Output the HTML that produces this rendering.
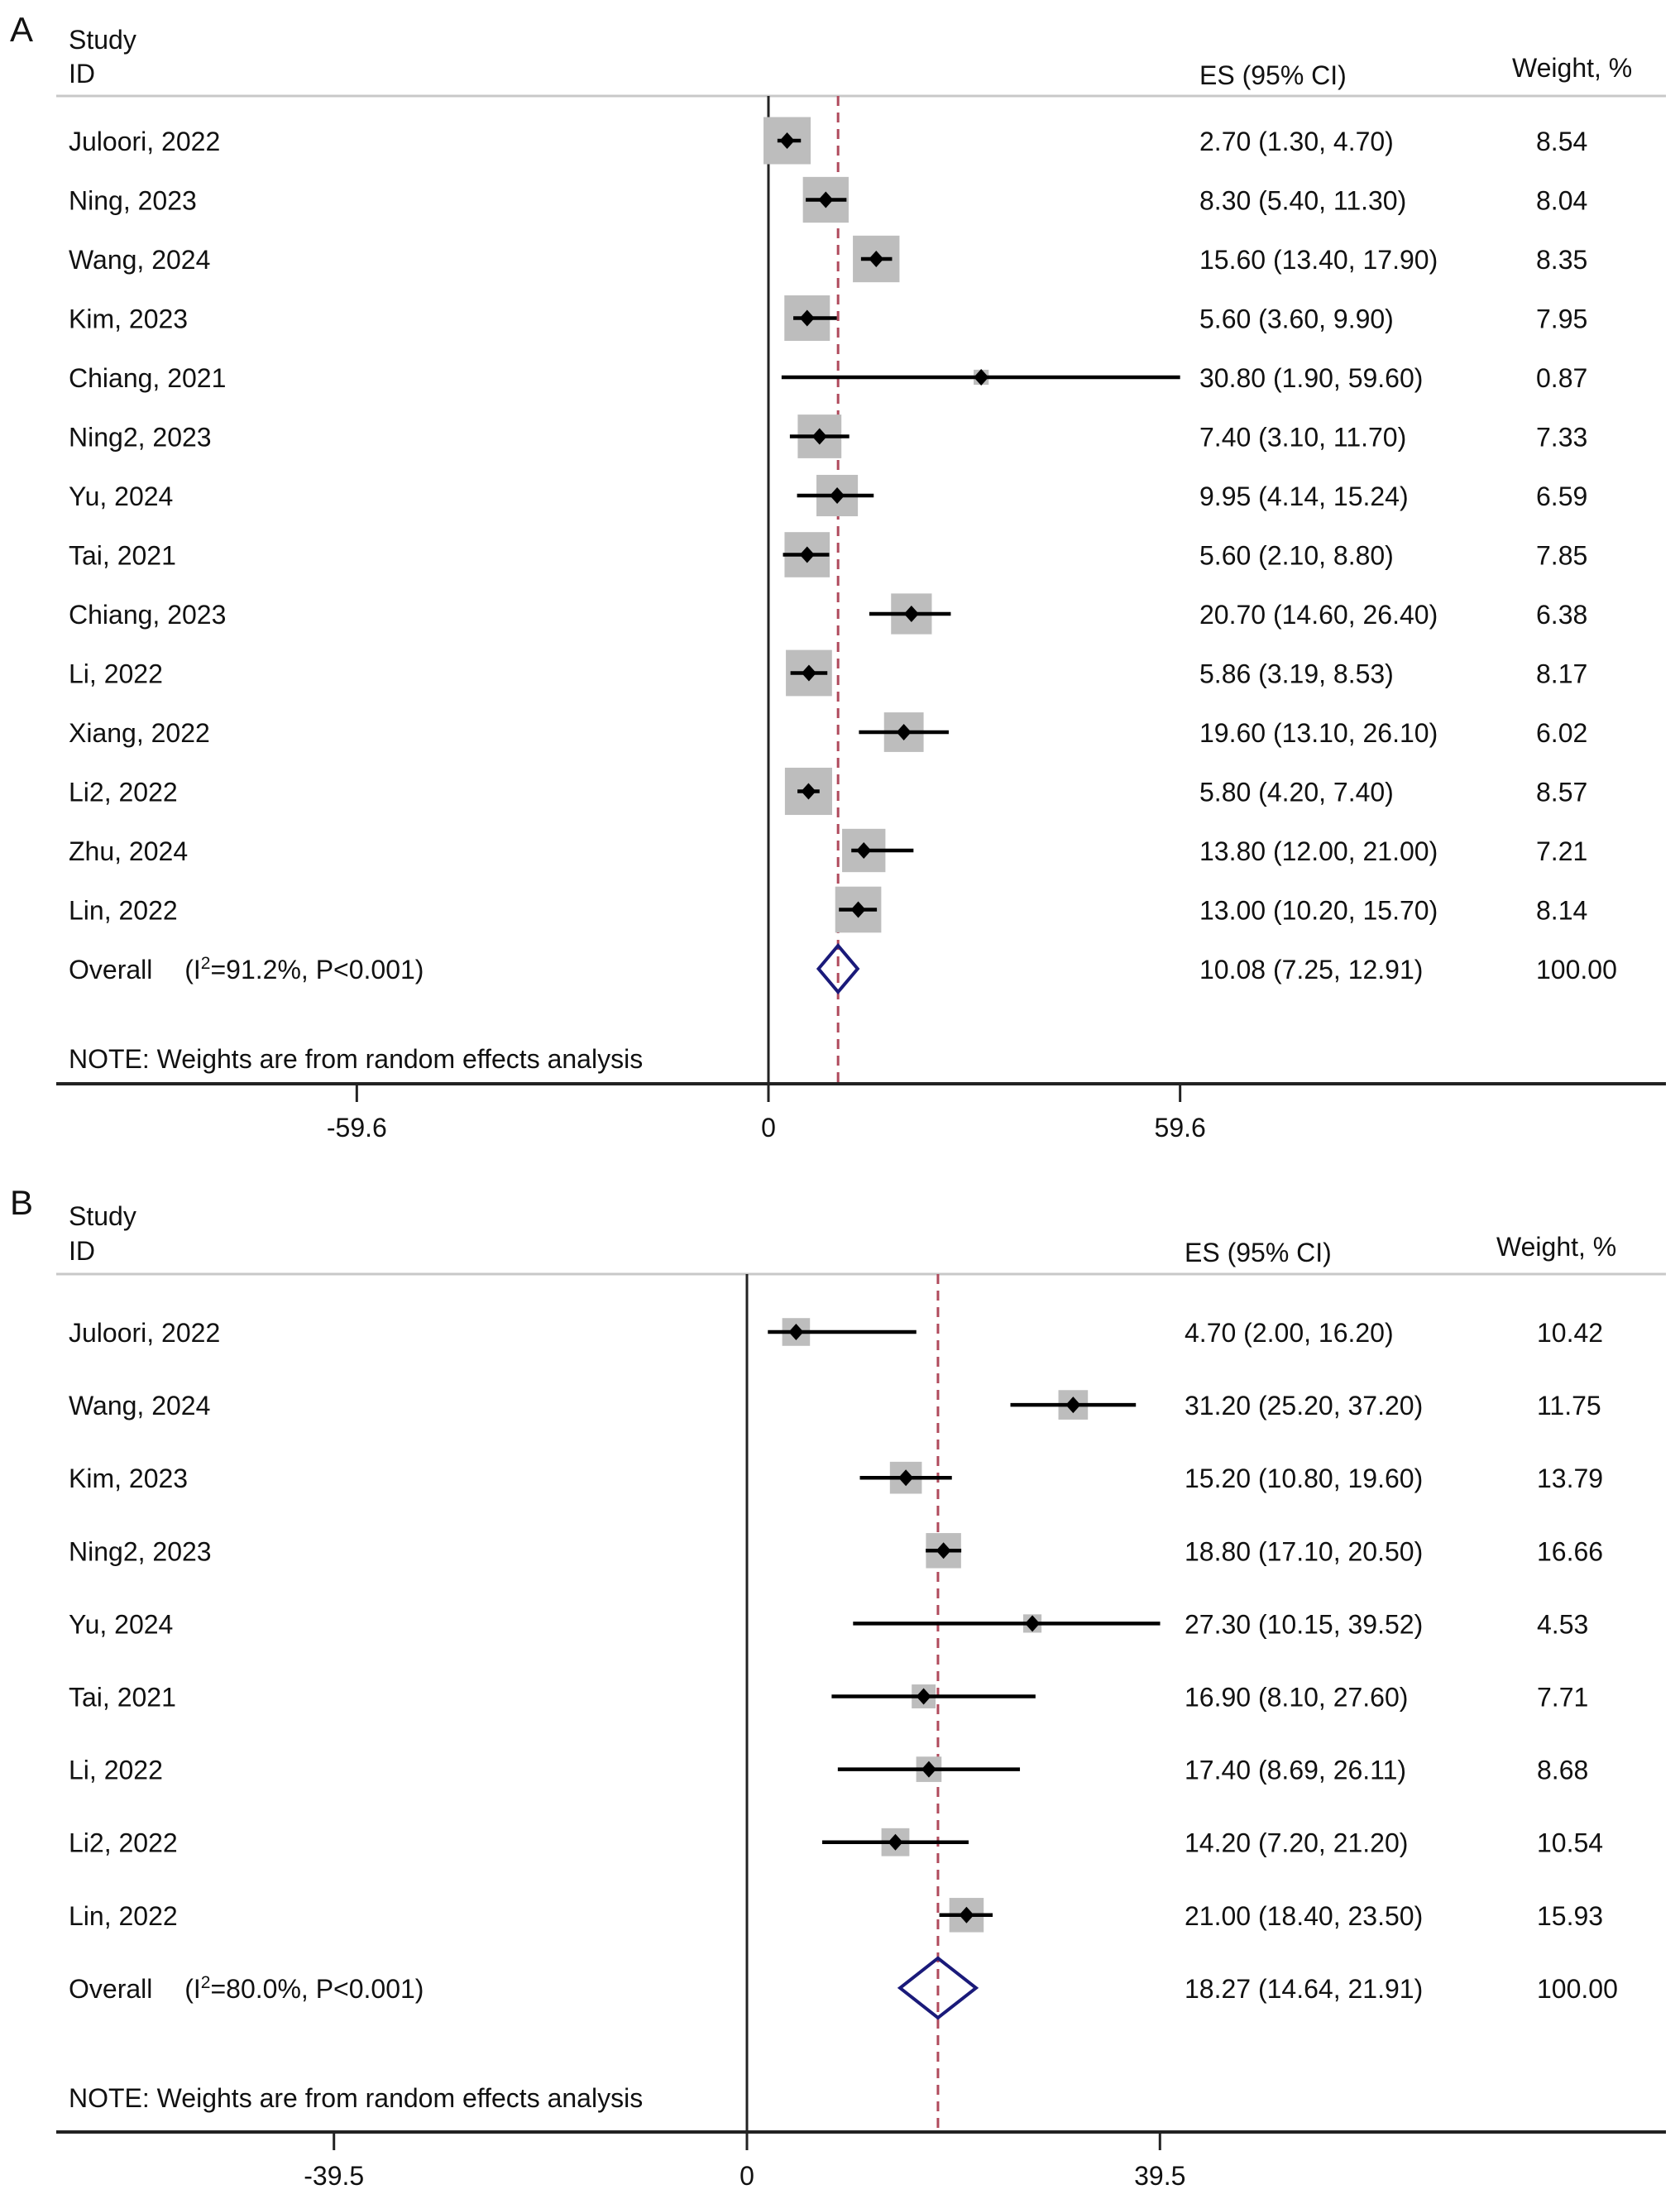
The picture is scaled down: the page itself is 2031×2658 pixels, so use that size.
<!DOCTYPE html>
<html><head><meta charset="utf-8"><style>
html,body{margin:0;padding:0;background:#fff;}
svg{display:block;font-family:"Liberation Sans",Arial,sans-serif;}
</style></head><body>
<svg id="chart" width="2031" height="2658" viewBox="0 0 2031 2658" xmlns="http://www.w3.org/2000/svg"></svg>
<script>
// Panel A data
const studiesA = ["Juloori, 2022","Ning, 2023","Wang, 2024","Kim, 2023","Chiang, 2021","Ning2, 2023","Yu, 2024","Tai, 2021","Chiang, 2023","Li, 2022","Xiang, 2022","Li2, 2022","Zhu, 2024","Lin, 2022"];
const esA = [2.70,8.30,15.60,5.60,30.80,7.40,9.95,5.60,20.70,5.86,19.60,5.80,13.80,13.00];
const lowA = [1.30,5.40,13.40,3.60,1.90,3.10,4.14,2.10,14.60,3.19,13.10,4.20,12.00,10.20];
const highA = [4.70,11.30,17.90,9.90,59.60,11.70,15.24,8.80,26.40,8.53,26.10,7.40,21.00,15.70];
const weightA = [8.54,8.04,8.35,7.95,0.87,7.33,6.59,7.85,6.38,8.17,6.02,8.57,7.21,8.14];
const overallA = [10.08,7.25,12.91];
const ticksA = [-59.6,0,59.6];
const hetA = "91.2%";
// Panel B data
const studiesB = ["Juloori, 2022","Wang, 2024","Kim, 2023","Ning2, 2023","Yu, 2024","Tai, 2021","Li, 2022","Li2, 2022","Lin, 2022"];
const esB = [4.70,31.20,15.20,18.80,27.30,16.90,17.40,14.20,21.00];
const lowB = [2.00,25.20,10.80,17.10,10.15,8.10,8.69,7.20,18.40];
const highB = [16.20,37.20,19.60,20.50,39.52,27.60,26.11,21.20,23.50];
const weightB = [10.42,11.75,13.79,16.66,4.53,7.71,8.68,10.54,15.93];
const overallB = [18.27,14.64,21.91];
const ticksB = [-39.5,0,39.5];
const hetB = "80.0%";

const NS="http://www.w3.org/2000/svg";
const svg=document.getElementById('chart');
const FS=32;
function el(tag,attrs,parent){const e=document.createElementNS(NS,tag);for(const k in attrs)e.setAttribute(k,attrs[k]);(parent||svg).appendChild(e);return e;}
function txt(s,x,y,size,parent,anchor){const t=el('text',{x:x,y:y,'font-size':size,fill:'#111','text-anchor':anchor||'start'},parent);t.textContent=s;return t;}
const f2=v=>v.toFixed(2);

function panel(cfg){
  const g=el('g',{});
  
  
  const X=v=>cfg.x0+v*cfg.scale;
  const pl=txt(cfg.label,12,cfg.labelY,42,g);
  
  
  const h1=txt('Study',83,cfg.studyY,FS,g);
  
  
  const h2=txt('ID',83,cfg.idY,FS,g);
  
  
  const h3=txt('ES (95% CI)',cfg.esX,cfg.idY+2,FS,g);
  
  
  const h4=txt('Weight, %',cfg.wHX,cfg.wHY,FS,g);
  
  
  const sep=el('line',{x1:68,x2:2014,y1:cfg.top,y2:cfg.top,stroke:'#c8c8c8','stroke-width':3},g);
  
  
  const zl=el('line',{x1:X(0),x2:X(0),y1:cfg.top,y2:cfg.axisY,stroke:'#222','stroke-width':3},g);
  
  
  const ov=cfg.overall;
  const dl=el('line',{x1:X(ov[0]),x2:X(ov[0]),y1:cfg.top,y2:cfg.axisY,stroke:'#b04a5c','stroke-width':3,'stroke-dasharray':'12 8'},g);
  
  
  cfg.studies.forEach((s,i)=>{
    const y=cfg.row0+i*cfg.rowH;
    const side=cfg.boxK*Math.sqrt(cfg.w[i]);
    const box=el('rect',{x:X(cfg.es[i])-side/2,y:y-side/2,width:side,height:side,fill:'#bdbdbd'},g);
    
    
    const ci=el('line',{x1:X(cfg.lo[i]),x2:X(cfg.hi[i]),y1:y,y2:y,stroke:'#000','stroke-width':4.5},g);
    
    
    const cx=X(cfg.es[i]);
    const pt=el('polygon',{points:`${cx-9},${y} ${cx},${y-10} ${cx+9},${y} ${cx},${y+10}`,fill:'#000'},g);
    
    
    const n=txt(s,83,y+12,FS,g);
    
    
    const e=txt(`${f2(cfg.es[i])} (${f2(cfg.lo[i])}, ${f2(cfg.hi[i])})`,cfg.esX,y+12,FS,g);
    
    
    const w=txt(f2(cfg.w[i]),cfg.wX,y+12,FS,g);
    
    
  });
  const oy=cfg.row0+cfg.studies.length*cfg.rowH;
  const dh=cfg.diamH;
  const dm=el('polygon',{points:`${X(ov[1])},${oy} ${X(ov[0])},${oy-dh} ${X(ov[2])},${oy} ${X(ov[0])},${oy+dh}`,fill:'none',stroke:'#1a1a7a','stroke-width':4},g);
  
  
  const ot=el('text',{x:83,y:oy+12,'font-size':FS,fill:'#111'},g);
  ot.innerHTML=`Overall <tspan dx="30">(I</tspan><tspan font-size="21" dy="-12">2</tspan><tspan dy="12">=${cfg.het}, P&lt;0.001)</tspan>`;
  
  
  const oe=txt(`${f2(ov[0])} (${f2(ov[1])}, ${f2(ov[2])})`,cfg.esX,oy+12,FS,g);
  
  
  const ow=txt('100.00',cfg.wX,oy+12,FS,g);
  
  
  const note=txt('NOTE: Weights are from random effects analysis',83,cfg.noteY,FS,g);
  
  
  const ax=el('line',{x1:68,x2:2014,y1:cfg.axisY,y2:cfg.axisY,stroke:'#222','stroke-width':4},g);
  
  
  cfg.ticks.forEach(t=>{
    const tk=el('line',{x1:X(t),x2:X(t),y1:cfg.axisY,y2:cfg.axisY+22,stroke:'#222','stroke-width':3},g);
    
    
    const tl=txt(String(t),X(t),cfg.axisY+64,FS,g,'middle');
    
    
  });
}
panel({name:'panel-a',label:'A',labelY:50,studyY:59,idY:100,esX:1450,wHX:1828,wHY:93,wX:1857,top:116,axisY:1310,x0:929,scale:8.35,row0:170,rowH:71.5,boxK:19.5,diamH:28,noteY:1291,
  studies:studiesA,es:esA,lo:lowA,hi:highA,w:weightA,overall:overallA,ticks:ticksA,het:hetA});
panel({name:'panel-b',label:'B',labelY:1468,studyY:1481,idY:1523,esX:1432,wHX:1809,wHY:1518,wX:1858,top:1540,axisY:2577,x0:903,scale:12.64,row0:1610,rowH:88.1,boxK:10.4,diamH:36,noteY:2547,
  studies:studiesB,es:esB,lo:lowB,hi:highB,w:weightB,overall:overallB,ticks:ticksB,het:hetB});
</script>
</body></html>
